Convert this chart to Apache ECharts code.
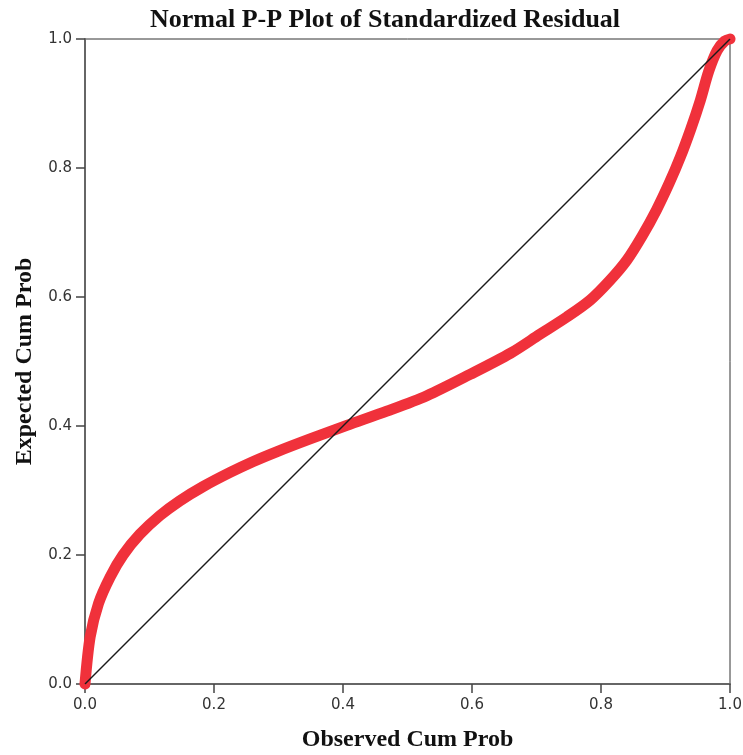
<!DOCTYPE html>
<html>
<head>
<meta charset="utf-8">
<script src="https://cdn.jsdelivr.net/npm/echarts@6/dist/echarts.min.js"></script>
<style>html,body{margin:0;padding:0;background:#fff}#c{width:743px;height:755px}</style>
</head>
<body>
<div id="c"></div>
<script>
var observedCumProb = [0, 0.008, 0.021, 0.039, 0.059, 0.085, 0.116, 0.147, 0.183, 0.225, 0.261, 0.297, 0.349, 0.406, 0.468, 0.530, 0.597, 0.660, 0.705, 0.747, 0.783, 0.814, 0.840, 0.864, 0.886, 0.906, 0.923, 0.939, 0.954, 0.967, 0.980, 0.992, 1.0];
var expectedCumProb = [0, 0.073, 0.125, 0.166, 0.200, 0.232, 0.261, 0.284, 0.306, 0.328, 0.345, 0.360, 0.380, 0.401, 0.423, 0.447, 0.480, 0.513, 0.542, 0.569, 0.595, 0.626, 0.657, 0.695, 0.735, 0.777, 0.817, 0.860, 0.905, 0.950, 0.982, 0.997, 1.0];
var refX = [0, 1];
var refY = [0, 1];
var tickValues = [0, 0.2, 0.4, 0.6, 0.8, 1.0];

var curve = observedCumProb.map(function (x, i) { return [x, expectedCumProb[i]]; });
var diag = refX.map(function (x, i) { return [x, refY[i]]; });

var chart = echarts.init(document.getElementById('c'));
function lbl(margin) {
  return { margin: margin, fontFamily: 'DejaVu Sans', fontSize: 15, color: '#333',
    formatter: function (v) { return v.toFixed(1); } };
}
var nameStyle = { fontFamily: 'Liberation Serif', fontWeight: 'bold', fontSize: 24, color: '#111' };
chart.setOption({
  animation: false,
  title: {
    text: 'Normal P-P Plot of Standardized Residual',
    left: 380, top: 2, textAlign: 'center',
    textStyle: { fontFamily: 'Liberation Serif', fontWeight: 'bold', fontSize: 26, color: '#111' }
  },
  grid: { left: 85, right: 13, top: 39, bottom: 71, containLabel: false, outerBoundsMode: 'none',
    show: true, borderColor: '#333', borderWidth: 1, backgroundColor: '#fff' },
  xAxis: {
    type: 'value', min: 0, max: 1, interval: 0.2,
    name: 'Observed Cum Prob', nameLocation: 'middle', nameGap: 44,
    nameTextStyle: nameStyle,
    axisLine: { show: true, lineStyle: { color: '#666', width: 2 } },
    axisTick: { show: true, inside: false, length: 9, lineStyle: { color: '#444', width: 1.5 } },
    axisLabel: lbl(14),
    splitLine: { show: false }
  },
  yAxis: {
    type: 'value', min: 0, max: 1, interval: 0.2,
    name: 'Expected Cum Prob', nameLocation: 'middle', nameGap: 48,
    nameTextStyle: nameStyle,
    axisLine: { show: true, lineStyle: { color: '#666', width: 2 } },
    axisTick: { show: true, inside: false, length: 9, lineStyle: { color: '#444', width: 1.5 } },
    axisLabel: lbl(13),
    splitLine: { show: false }
  },
  series: [
    {
      type: 'line', data: curve, smooth: 0.3, symbol: 'none', clip: false,
      lineStyle: { color: '#f0313b', width: 11, cap: 'round', join: 'round' }, z: 2
    },
    {
      type: 'line', data: diag, symbol: 'none',
      lineStyle: { color: '#1a1a1a', width: 1.5 }, z: 3
    }
  ]
});
</script>
</body>
</html>
